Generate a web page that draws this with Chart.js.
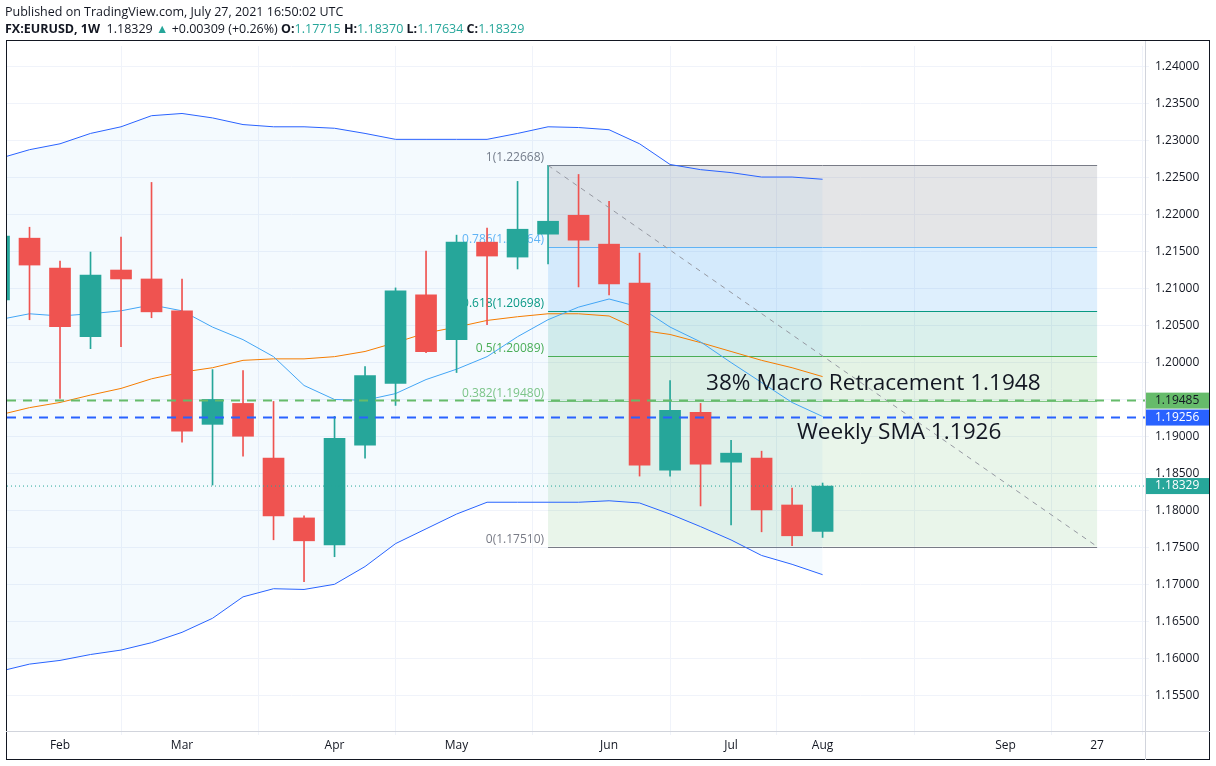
<!DOCTYPE html>
<html>
<head>
<meta charset="utf-8">
<script src="https://cdn.jsdelivr.net/npm/chart.js@4"></script>
<style>
  body { margin: 0; background: #fff; font-family: "Open Sans", "Noto Sans", sans-serif; }
  #wrap { position: relative; width: 1216px; height: 766px; }
  #hdr1 { position: absolute; left: 5px; top: 3px; font-size: 12.5px; color: #131722; }
  #hdr2 { position: absolute; left: 5px; top: 20px; font-size: 12.5px; color: #131722; }
  #hdr2 b { font-weight: 700; }
  .g { color: #26a69a; }
  canvas { position: absolute; left: 0; top: 0; }
</style>
</head>
<body>
<div id="wrap">
  <canvas id="chart" width="1216" height="766"></canvas>
  <div id="hdr1">Published on TradingView.com, July 27, 2021 16:50:02 UTC</div>
  <div id="hdr2"><b>FX:EURUSD, 1W</b>&nbsp; 1.18329 <span class="g">&#9650;</span> +0.00309 (+0.26%) <b>O:</b><span class="g">1.17715</span> <b>H:</b><span class="g">1.18370</span> <b>L:</b><span class="g">1.17634</span> <b>C:</b><span class="g">1.18329</span></div>
</div>
<script>
// weeks from Jan 18 2021 (index 0) to Jul 26 2021 (index 27)
const weeks = ['Jan 18','Jan 25','Feb 1','Feb 8','Feb 15','Feb 22','Mar 1','Mar 8','Mar 15','Mar 22','Mar 29',
  'Apr 5','Apr 12','Apr 19','Apr 26','May 3','May 10','May 17','May 24','May 31','Jun 7','Jun 14','Jun 21',
  'Jun 28','Jul 5','Jul 12','Jul 19','Jul 26'];
const opens  = [1.20848,1.21683,1.21279,1.20350,1.21252,1.21131,1.20700,1.19164,1.19447,1.18706,1.17898,1.17534,1.18881,1.19717,1.20915,1.20309,1.21629,1.21427,1.21737,1.21993,1.21602,1.21077,1.18545,1.19326,1.18652,1.18706,1.18073,1.17715];
const highs  = [1.21791,1.21831,1.21373,1.21495,1.21697,1.22437,1.21131,1.19905,1.19892,1.19474,1.17925,1.19272,1.19946,1.21010,1.21508,1.21724,1.21818,1.22451,1.22668,1.22545,1.22182,1.21481,1.19757,1.19447,1.18949,1.18801,1.18302,1.18370];
const lows   = [1.20781,1.20579,1.19514,1.20188,1.20215,1.20606,1.18922,1.18343,1.18733,1.17602,1.17036,1.17373,1.18706,1.19420,1.20135,1.19865,1.20511,1.21266,1.21333,1.21023,1.20915,1.18464,1.18464,1.18060,1.17804,1.17710,1.17521,1.17634];
const closes = [1.21710,1.21319,1.20484,1.21185,1.21131,1.20686,1.19070,1.19501,1.19003,1.17925,1.17588,1.18976,1.19824,1.20969,1.20148,1.21629,1.21441,1.21804,1.21912,1.21656,1.21064,1.18612,1.19353,1.18625,1.18774,1.18006,1.17656,1.18329];
const bbUpper = [1.2276,1.2288,1.2296,1.2310,1.2319,1.2334,1.2337,1.2331,1.2322,1.2319,1.2319,1.2317,1.2310,1.2302,1.2302,1.2302,1.2302,1.2310,1.2319,1.2318,1.2315,1.2296,1.2268,1.2261,1.2257,1.2251,1.2251,1.2248];
const bbBasis = [1.2058,1.2066,1.2063,1.2066,1.2070,1.2078,1.2070,1.2048,1.2031,1.2008,1.1969,1.1950,1.1949,1.1958,1.1977,1.1991,1.2008,1.2035,1.2058,1.2075,1.2086,1.2075,1.2048,1.2028,1.2000,1.1973,1.1946,1.1927];
const bbLower = [1.1582,1.1592,1.1597,1.1605,1.1611,1.1621,1.1635,1.1654,1.1683,1.1694,1.1693,1.1700,1.1724,1.1755,1.1775,1.1795,1.1811,1.1811,1.1811,1.1811,1.1813,1.1810,1.1795,1.1778,1.1760,1.1739,1.1727,1.1713];
const maOrange = [1.1929,1.1939,1.1946,1.1956,1.1965,1.1978,1.1987,1.1993,1.2003,1.2005,1.2005,1.2008,1.2015,1.2027,1.2040,1.2048,1.2057,1.2062,1.2066,1.2066,1.2063,1.2044,1.2038,1.2027,1.2015,1.2003,1.1993,1.1981];

// x axis labels (week index -> label)
const xTickPos = [2, 6, 11, 15, 20, 24, 27, 33, 36];
const xTickLabels = ['Feb','Mar','Apr','May','Jun','Jul','Aug','Sep','27'];
// y axis ticks
const yTicks = [1.155,1.16,1.165,1.17,1.175,1.18,1.185,1.19,1.195,1.2,1.205,1.21,1.215,1.22,1.225,1.23,1.235,1.24];

// fibonacci retracement drawn from May 24 high to Jul 19 low
const fibStart = 18, fibEnd = 36;
const fibHigh = 1.22668, fibLow = 1.17510;
const fibRatios = [1, 0.786, 0.618, 0.5, 0.382, 0];
const fibPrices = [1.22668, 1.21564, 1.20698, 1.20089, 1.19480, 1.17510];
const fibLine  = ['#787b86', '#64b5f6', '#089981', '#4caf50', '#81c784', '#787b86'];
const fibFill  = ['rgba(120,123,134,0.2)', 'rgba(33,150,243,0.15)', 'rgba(8,153,129,0.15)', 'rgba(76,175,80,0.15)', 'rgba(76,175,80,0.12)'];

const macroLevel = 1.19485, smaLevel = 1.19256, lastPrice = 1.18329;

const up = '#26a69a', down = '#ef5350';
const cols = closes.map((c, i) => c >= opens[i] ? up : down);
const bodies = weeks.map((w, i) => ({ x: i, y: [opens[i], closes[i]] }));
const wicks = weeks.map((w, i) => ({ x: i, y: [lows[i], highs[i]] }));
const line = arr => arr.map((v, i) => ({ x: i, y: v }));

const overlay = {
  id: 'overlay',
  beforeDatasetsDraw(chart) {
    const { ctx, chartArea: a, scales: { x, y } } = chart;
    ctx.save();
    ctx.beginPath(); ctx.rect(a.left, a.top, a.right - a.left, a.bottom - a.top); ctx.clip();
    const x0 = x.getPixelForValue(fibStart), x1 = x.getPixelForValue(fibEnd);
    for (let i = 0; i < fibFill.length; i++) {
      const ya = y.getPixelForValue(fibPrices[i]), yb = y.getPixelForValue(fibPrices[i + 1]);
      ctx.fillStyle = fibFill[i];
      ctx.fillRect(x0, ya, x1 - x0, yb - ya);
    }
    ctx.lineWidth = 1;
    ctx.font = '12px "Open Sans", sans-serif';
    ctx.textAlign = 'right'; ctx.textBaseline = 'middle';
    fibPrices.forEach((p, i) => {
      const yy = Math.round(y.getPixelForValue(p)) + 0.5;
      ctx.strokeStyle = fibLine[i];
      ctx.beginPath(); ctx.moveTo(x0, yy); ctx.lineTo(x1, yy); ctx.stroke();
      ctx.fillStyle = fibLine[i];
      ctx.fillText(fibRatios[i] + '(' + p.toFixed(5) + ')', x0 - 4, yy - 8);
    });
    ctx.restore();
  },
  afterDatasetsDraw(chart) {
    const { ctx, chartArea: a, scales: { x, y } } = chart;
    ctx.save();
    ctx.beginPath(); ctx.rect(a.left, a.top, a.right - a.left, a.bottom - a.top); ctx.clip();
    // trend line of the fib
    ctx.strokeStyle = '#9598a1'; ctx.lineWidth = 1; ctx.setLineDash([5, 5]);
    ctx.beginPath();
    ctx.moveTo(x.getPixelForValue(fibStart), y.getPixelForValue(fibHigh));
    ctx.lineTo(x.getPixelForValue(fibEnd), y.getPixelForValue(fibLow));
    ctx.stroke();
    // horizontal levels
    const hl = (p, c, w, dash) => {
      const yy = y.getPixelForValue(p);
      ctx.strokeStyle = c; ctx.lineWidth = w; ctx.setLineDash(dash);
      ctx.beginPath(); ctx.moveTo(a.left, yy); ctx.lineTo(a.right, yy); ctx.stroke();
    };
    hl(macroLevel, '#66bb6a', 2, [9, 7]);
    hl(smaLevel, '#2962ff', 2, [9, 7]);
    hl(lastPrice, '#26a69a', 1, [1, 3]);
    ctx.setLineDash([]);
    ctx.fillStyle = '#131722';
    ctx.font = '22.6px "Open Sans", sans-serif';
    ctx.textAlign = 'left'; ctx.textBaseline = 'middle';
    ctx.fillText('38% Macro Retracement 1.1948', 706, 384);
    ctx.fillText('Weekly SMA 1.1926', 797, 433);
    ctx.restore();

    // price labels on the axis
    ctx.save();
    ctx.font = '12px "Open Sans", sans-serif';
    ctx.textBaseline = 'middle'; ctx.textAlign = 'left';
    const tag = (p, bg, fg) => {
      const yy = y.getPixelForValue(p);
      ctx.fillStyle = bg; ctx.fillRect(a.right + 1, yy - 8, 64, 16);
      ctx.fillStyle = fg; ctx.fillText(p.toFixed(5), a.right + 10, yy);
    };
    tag(macroLevel, '#66bb6a', '#131722');
    tag(smaLevel, '#2962ff', '#ffffff');
    tag(lastPrice, '#26a69a', '#ffffff');
    ctx.restore();
  },
  afterDraw(chart) {
    const { ctx, chartArea: a } = chart;
    ctx.save();
    ctx.strokeStyle = '#131722'; ctx.lineWidth = 1;
    ctx.strokeRect(6.5, 40.5, 1203, 719);
    ctx.strokeStyle = '#d1d4dc';
    ctx.beginPath(); ctx.moveTo(a.right + 0.5, a.top - 5); ctx.lineTo(a.right + 0.5, 760); ctx.stroke();
    ctx.beginPath(); ctx.moveTo(6, a.bottom + 0.5); ctx.lineTo(1210, a.bottom + 0.5); ctx.stroke();
    ctx.restore();
  }
};

new Chart(document.getElementById('chart'), {
  type: 'bar',
  data: {
    datasets: [
      { type: 'line', data: line(bbUpper), borderColor: '#2962ff', borderWidth: 1, pointRadius: 0,
        fill: '+1', backgroundColor: 'rgba(33,150,243,0.05)', order: 5 },
      { type: 'line', data: line(bbLower), borderColor: '#2962ff', borderWidth: 1, pointRadius: 0, fill: false, order: 5 },
      { type: 'line', data: line(bbBasis), borderColor: '#42a5f5', borderWidth: 1, pointRadius: 0, fill: false, order: 4 },
      { type: 'line', data: line(maOrange), borderColor: '#f57c00', borderWidth: 1, pointRadius: 0, fill: false, order: 4 },
      { data: wicks, backgroundColor: cols, barThickness: 1, grouped: false, order: 2 },
      { data: bodies, backgroundColor: cols, barThickness: 21, grouped: false, order: 1 }
    ]
  },
  options: {
    responsive: false,
    animation: false,
    layout: { padding: { left: 7, right: 6, top: 46, bottom: 6 } },
    plugins: { legend: { display: false }, tooltip: { enabled: false } },
    scales: {
      x: {
        type: 'linear', min: 0.262, max: 37.57, offset: false,
        afterBuildTicks: s => { s.ticks = xTickPos.map(v => ({ value: v })); },
        afterFit: s => { s.height = 29; },
        ticks: { color: '#131722', font: { size: 12, family: '"Open Sans", sans-serif' }, maxRotation: 0,
          autoSkip: false, callback: v => xTickLabels[xTickPos.indexOf(v)] },
        grid: { color: '#f0f3fa', drawTicks: true, tickLength: 4 },
        border: { display: false }
      },
      y: {
        position: 'right', min: 1.15015, max: 1.24283,
        afterBuildTicks: s => { s.ticks = yTicks.map(v => ({ value: v })); },
        afterFit: s => { s.width = 65; },
        ticks: { color: '#131722', font: { size: 12, family: '"Open Sans", sans-serif' }, padding: 6,
          callback: v => v.toFixed(5) },
        grid: { color: '#f0f3fa', tickLength: 4 },
        border: { display: false }
      }
    }
  },
  plugins: [overlay]
});
</script>
</body>
</html>
